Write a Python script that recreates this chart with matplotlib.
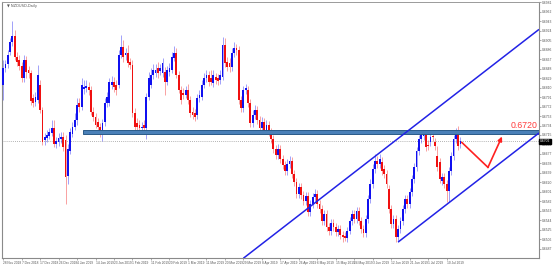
import matplotlib
matplotlib.use("Agg")
import matplotlib.pyplot as plt
import matplotlib.transforms as mtransforms
from matplotlib.patches import Rectangle
import numpy as np

# ---------------- data (NZDUSD daily) ----------------
opens = [
    0.6816,0.6850,0.6858,0.6882,0.6902,0.6914,0.6872,0.6866,0.6854,0.6830,
    0.6866,0.6846,0.6840,0.6790,0.6782,0.6786,0.6816,0.6766,0.6704,0.6708,
    0.6712,0.6718,0.6730,0.6696,0.6700,0.6706,0.6710,0.6704,0.6632,0.6682,
    0.6716,0.6732,0.6746,0.6780,0.6772,0.6808,0.6810,0.6812,0.6806,0.6762,
    0.6752,0.6742,0.6732,0.6720,0.6742,0.6780,0.6780,0.6816,0.6822,0.6816,
    0.6816,0.6876,0.6892,0.6876,0.6880,0.6862,0.6856,0.6760,0.6740,0.6736,
    0.6730,0.6736,0.6730,0.6792,0.6816,0.6836,0.6840,0.6850,0.6844,0.6840,
    0.6842,0.6822,0.6842,0.6846,0.6870,0.6880,0.6836,0.6806,0.6800,0.6796,
    0.6806,0.6786,0.6762,0.6760,0.6756,0.6790,0.6792,0.6816,0.6830,0.6836,
    0.6830,0.6820,0.6832,0.6830,0.6826,0.6832,0.6896,0.6862,0.6860,0.6852,
    0.6880,0.6890,0.6886,0.6786,0.6770,0.6806,0.6806,0.6780,0.6740,0.6756,
    0.6766,0.6746,0.6730,0.6742,0.6726,0.6736,0.6720,0.6706,0.6686,0.6674,
    0.6686,0.6666,0.6654,0.6642,0.6656,0.6662,0.6636,0.6620,0.6596,0.6610,
    0.6594,0.6582,0.6592,0.6560,0.6576,0.6590,0.6596,0.6576,0.6566,0.6542,
    0.6556,0.6530,0.6522,0.6538,0.6530,0.6520,0.6526,0.6514,0.6512,0.6508,
    0.6522,0.6542,0.6556,0.6546,0.6562,0.6542,0.6526,0.6518,0.6546,0.6586,
    0.6616,0.6646,0.6662,0.6656,0.6660,0.6646,0.6636,0.6606,0.6566,0.6536,
    0.6546,0.6510,0.6526,0.6542,0.6566,0.6586,0.6576,0.6600,0.6626,0.6650,
    0.6682,0.6706,0.6712,0.6716,0.6694,0.6700,0.6712,0.6700,0.6672,0.6660,
    0.6622,0.6630,0.6616,0.6602,0.6642,0.6672,0.6706,0.6720,0.6696,
]
highs = [
    0.6866,0.6866,0.6886,0.6910,0.6944,0.6926,0.6882,0.6876,0.6862,0.6876,
    0.6874,0.6854,0.6846,0.6798,0.6802,0.6856,0.6826,0.6772,0.6718,0.6726,
    0.6730,0.6746,0.6746,0.6710,0.6718,0.6720,0.6720,0.6714,0.6696,0.6730,
    0.6742,0.6760,0.6790,0.6790,0.6830,0.6826,0.6826,0.6822,0.6814,0.6772,
    0.6760,0.6750,0.6740,0.6748,0.6790,0.6802,0.6830,0.6834,0.6832,0.6826,
    0.6886,0.6916,0.6906,0.6890,0.6896,0.6870,0.6866,0.6770,0.6750,0.6746,
    0.6742,0.6746,0.6800,0.6842,0.6850,0.6858,0.6858,0.6862,0.6858,0.6870,
    0.6852,0.6854,0.6860,0.6882,0.6894,0.6890,0.6844,0.6814,0.6810,0.6814,
    0.6818,0.6794,0.6772,0.6768,0.6798,0.6806,0.6826,0.6840,0.6846,0.6844,
    0.6846,0.6846,0.6840,0.6838,0.6846,0.6912,0.6910,0.6872,0.6870,0.6890,
    0.6902,0.6898,0.6894,0.6794,0.6814,0.6818,0.6814,0.6788,0.6766,0.6776,
    0.6774,0.6754,0.6752,0.6750,0.6746,0.6744,0.6730,0.6714,0.6694,0.6696,
    0.6694,0.6674,0.6662,0.6666,0.6672,0.6670,0.6644,0.6628,0.6618,0.6618,
    0.6602,0.6600,0.6600,0.6584,0.6598,0.6606,0.6604,0.6584,0.6574,0.6564,
    0.6564,0.6538,0.6546,0.6546,0.6538,0.6534,0.6534,0.6522,0.6520,0.6530,
    0.6550,0.6564,0.6564,0.6570,0.6570,0.6550,0.6534,0.6554,0.6594,0.6626,
    0.6656,0.6676,0.6672,0.6676,0.6670,0.6654,0.6644,0.6614,0.6574,0.6554,
    0.6554,0.6534,0.6550,0.6574,0.6594,0.6594,0.6608,0.6634,0.6658,0.6690,
    0.6714,0.6722,0.6724,0.6724,0.6704,0.6718,0.6720,0.6708,0.6692,0.6668,
    0.6638,0.6638,0.6624,0.6650,0.6680,0.6714,0.6730,0.6734,0.6710,
]
lows = [
    0.6786,0.6842,0.6850,0.6876,0.6894,0.6866,0.6854,0.6846,0.6822,0.6822,
    0.6830,0.6830,0.6776,0.6772,0.6774,0.6780,0.6760,0.6694,0.6694,0.6700,
    0.6706,0.6712,0.6690,0.6688,0.6692,0.6698,0.6682,0.6576,0.6616,0.6676,
    0.6710,0.6724,0.6736,0.6762,0.6766,0.6798,0.6802,0.6796,0.6756,0.6744,
    0.6730,0.6724,0.6710,0.6702,0.6734,0.6772,0.6774,0.6808,0.6802,0.6796,
    0.6810,0.6870,0.6862,0.6866,0.6852,0.6848,0.6752,0.6724,0.6724,0.6722,
    0.6722,0.6720,0.6706,0.6786,0.6810,0.6828,0.6832,0.6830,0.6836,0.6832,
    0.6796,0.6816,0.6834,0.6840,0.6864,0.6830,0.6800,0.6778,0.6788,0.6790,
    0.6778,0.6752,0.6748,0.6744,0.6748,0.6782,0.6786,0.6810,0.6822,0.6814,
    0.6816,0.6812,0.6818,0.6816,0.6818,0.6826,0.6852,0.6844,0.6842,0.6844,
    0.6872,0.6876,0.6778,0.6762,0.6762,0.6798,0.6772,0.6732,0.6732,0.6748,
    0.6738,0.6722,0.6724,0.6718,0.6718,0.6712,0.6698,0.6678,0.6666,0.6666,
    0.6658,0.6646,0.6634,0.6634,0.6648,0.6628,0.6612,0.6588,0.6588,0.6586,
    0.6574,0.6574,0.6552,0.6552,0.6568,0.6582,0.6568,0.6558,0.6534,0.6534,
    0.6522,0.6514,0.6514,0.6522,0.6512,0.6512,0.6506,0.6500,0.6502,0.6500,
    0.6516,0.6534,0.6538,0.6538,0.6534,0.6518,0.6510,0.6510,0.6538,0.6578,
    0.6608,0.6638,0.6648,0.6648,0.6634,0.6628,0.6608,0.6558,0.6528,0.6528,
    0.6500,0.6500,0.6518,0.6534,0.6558,0.6568,0.6568,0.6592,0.6618,0.6642,
    0.6674,0.6698,0.6704,0.6682,0.6684,0.6692,0.6702,0.6684,0.6642,0.6618,
    0.6614,0.6608,0.6580,0.6580,0.6634,0.6664,0.6698,0.6684,0.6688,
]
closes = [
    0.6850,0.6858,0.6876,0.6902,0.6914,0.6872,0.6862,0.6854,0.6830,0.6866,
    0.6842,0.6840,0.6784,0.6780,0.6792,0.6836,0.6766,0.6700,0.6710,0.6714,
    0.6720,0.6730,0.6696,0.6702,0.6708,0.6710,0.6690,0.6630,0.6686,0.6720,
    0.6732,0.6746,0.6776,0.6772,0.6816,0.6812,0.6814,0.6806,0.6762,0.6752,
    0.6736,0.6732,0.6720,0.6740,0.6780,0.6792,0.6822,0.6822,0.6812,0.6806,
    0.6876,0.6892,0.6872,0.6880,0.6860,0.6856,0.6760,0.6732,0.6732,0.6730,
    0.6732,0.6730,0.6792,0.6830,0.6836,0.6846,0.6846,0.6840,0.6850,0.6860,
    0.6822,0.6846,0.6850,0.6872,0.6880,0.6836,0.6806,0.6786,0.6796,0.6806,
    0.6786,0.6760,0.6756,0.6752,0.6790,0.6796,0.6816,0.6830,0.6836,0.6822,
    0.6822,0.6836,0.6826,0.6824,0.6836,0.6896,0.6860,0.6852,0.6852,0.6880,
    0.6890,0.6886,0.6786,0.6770,0.6806,0.6810,0.6780,0.6740,0.6756,0.6766,
    0.6746,0.6730,0.6742,0.6726,0.6736,0.6720,0.6706,0.6686,0.6674,0.6686,
    0.6666,0.6654,0.6642,0.6656,0.6662,0.6636,0.6620,0.6596,0.6610,0.6594,
    0.6582,0.6592,0.6560,0.6576,0.6590,0.6596,0.6576,0.6566,0.6542,0.6556,
    0.6530,0.6522,0.6538,0.6530,0.6520,0.6526,0.6514,0.6510,0.6508,0.6522,
    0.6542,0.6556,0.6546,0.6562,0.6542,0.6526,0.6518,0.6546,0.6586,0.6616,
    0.6646,0.6662,0.6656,0.6666,0.6642,0.6636,0.6616,0.6566,0.6536,0.6546,
    0.6510,0.6526,0.6542,0.6566,0.6586,0.6576,0.6600,0.6626,0.6650,0.6682,
    0.6706,0.6714,0.6716,0.6690,0.6692,0.6710,0.6710,0.6692,0.6650,0.6626,
    0.6630,0.6616,0.6602,0.6642,0.6672,0.6706,0.6720,0.6692,0.6702,
]

date_labels = ["28 Nov 2018", "7 Dec 2018", "17 Dec 2018", "26 Dec 2018", "4 Jan 2019",
               "14 Jan 2019", "23 Jan 2019", "1 Feb 2019", "11 Feb 2019", "20 Feb 2019",
               "1 Mar 2019", "11 Mar 2019", "20 Mar 2019", "29 Mar 2019", "8 Apr 2019",
               "17 Apr 2019", "26 Apr 2019", "6 May 2019", "15 May 2019", "24 May 2019",
               "3 Jun 2019", "12 Jun 2019", "21 Jun 2019", "1 Jul 2019", "10 Jul 2019"]
date_label_bars = [0, 8, 16, 24, 32, 40, 48, 56, 64, 72, 80, 88, 96, 104, 112,
                   120, 128, 136, 144, 152, 160, 168, 176, 184, 192]

price_ticks = [0.6981, 0.6962, 0.6943, 0.6924, 0.6905, 0.6886, 0.6867, 0.6848, 0.6829,
               0.6810, 0.6791, 0.6772, 0.6753, 0.6734, 0.6715, 0.6696, 0.6677, 0.6658,
               0.6639, 0.6620, 0.6601, 0.6582, 0.6563, 0.6544, 0.6525, 0.6506, 0.6487]

resistance_level = 0.6720
resistance_start_bar = 34.5
band_half = 0.0004

# channel: lower line anchored at the June low, upper line parallel
channel_low_bar = 171
channel_low_price = 0.6500
channel_end_bar = 232
channel_end_price = 0.6719
channel_width = 0.0208
upper_start_bar = 104

# projected path (red arrow)
proj_bars = [198.6, 209.9, 216.0]
proj_prices = [0.6700, 0.6650, 0.6712]

symbol_title = "NZDUSD,Daily"

# ---------------- figure ----------------
W, H = 553, 267
fig = plt.figure(figsize=(W / 100, H / 100), dpi=100)
fig.patch.set_facecolor("white")
L, R, T, B = 2, 539, 2, 258
ax = fig.add_axes([L / W, 1 - B / H, (R - L) / W, (B - T) / H])
ax.set_facecolor("white")

n = len(closes)
assert len(opens) == len(highs) == len(lows) == n
x = np.arange(n)
o = np.array(opens); h = np.array(highs); l = np.array(lows); c = np.array(closes)
up = c >= o
bull, bear = "#1010f0", "#f01010"
cols = np.where(up, bull, bear)

ax.vlines(x, l, h, colors=cols, linewidth=0.55, alpha=0.5, zorder=2)
bot = np.minimum(o, c)
hgt = np.maximum(np.abs(c - o), 0.00012)
ax.bar(x, hgt, bottom=bot, width=0.78, color=cols, linewidth=0, zorder=3)

ax.set_xlim(-0.5, 232.0)
ax.set_ylim(0.6468, 0.6982)

# resistance band
band = Rectangle((resistance_start_bar, resistance_level - band_half),
                 232.0 - resistance_start_bar, 2 * band_half,
                 facecolor="#4a80b8", edgecolor="#2a5a88", linewidth=0.7, zorder=4)
ax.add_patch(band)
ax.text(231.3, resistance_level + 0.00055, "0.6720", color="#ff3b3b",
        fontsize=6.3, family="Liberation Sans", ha="right", va="bottom", zorder=6)

# channel lines
slope = (channel_end_price - channel_low_price) / (channel_end_bar - channel_low_bar)
ax.plot([channel_low_bar, channel_end_bar], [channel_low_price, channel_end_price],
        color="#2222e6", linewidth=1.1, zorder=5, solid_capstyle="butt")
up_start_price = channel_low_price + (upper_start_bar - channel_low_bar) * slope + channel_width
ax.plot([upper_start_bar, channel_end_bar],
        [up_start_price, channel_end_price + channel_width],
        color="#2222e6", linewidth=1.1, zorder=5, solid_capstyle="butt")

# projected path
ax.plot(proj_bars[:2], proj_prices[:2], color="#ff2020", linewidth=1.2, zorder=6)
ax.annotate("", xy=(proj_bars[2], proj_prices[2]), xytext=(proj_bars[1], proj_prices[1]),
            arrowprops=dict(arrowstyle="-|>,head_length=0.25,head_width=0.12",
                            color="#ff2020", lw=1.2, shrinkA=0, shrinkB=0), zorder=6)

# current price line and label
last = closes[-1]
ax.axhline(last, color="#9a9a9a", linestyle=(0, (1, 1.5)), linewidth=0.6, zorder=1)
trans = mtransforms.blended_transform_factory(ax.transAxes, ax.transData)
ax.text(1.002, last, f"{last:.4f}", transform=trans, fontsize=2.4, color="white",
        family="Liberation Sans", ha="left", va="center", zorder=7, clip_on=False,
        bbox=dict(boxstyle="square,pad=0.2", facecolor="black", edgecolor="black"))

# axes styling
for side in ["left", "right", "bottom"]:
    ax.spines[side].set_color("#8a8a8a")
    ax.spines[side].set_linewidth(0.8)
ax.spines["top"].set_color("#9a9a9a")
ax.spines["top"].set_linestyle((0, (1, 1)))
ax.spines["top"].set_linewidth(0.7)

ax.yaxis.tick_right()
ax.set_yticks(price_ticks)
ax.set_yticklabels([f"{v:.4f}" for v in price_ticks], family="Liberation Sans")
ax.tick_params(axis="y", which="both", length=1.5, width=0.5, colors="#8a8a8a",
               labelsize=2.4, labelcolor="#555555", pad=0.8)
ax.set_xticks(date_label_bars)
ax.set_xticklabels(date_labels, ha="left", family="Liberation Sans")
ax.tick_params(axis="x", which="both", length=1.5, width=0.5, colors="#8a8a8a",
               labelsize=2.3, labelcolor="#555555", pad=1)

fig.text(7 / W, 1 - 6 / H, "\u25bc " + symbol_title, fontsize=2.6, color="#555555",
         ha="left", va="center")

fig.savefig("out.png", dpi=100, facecolor="white")
